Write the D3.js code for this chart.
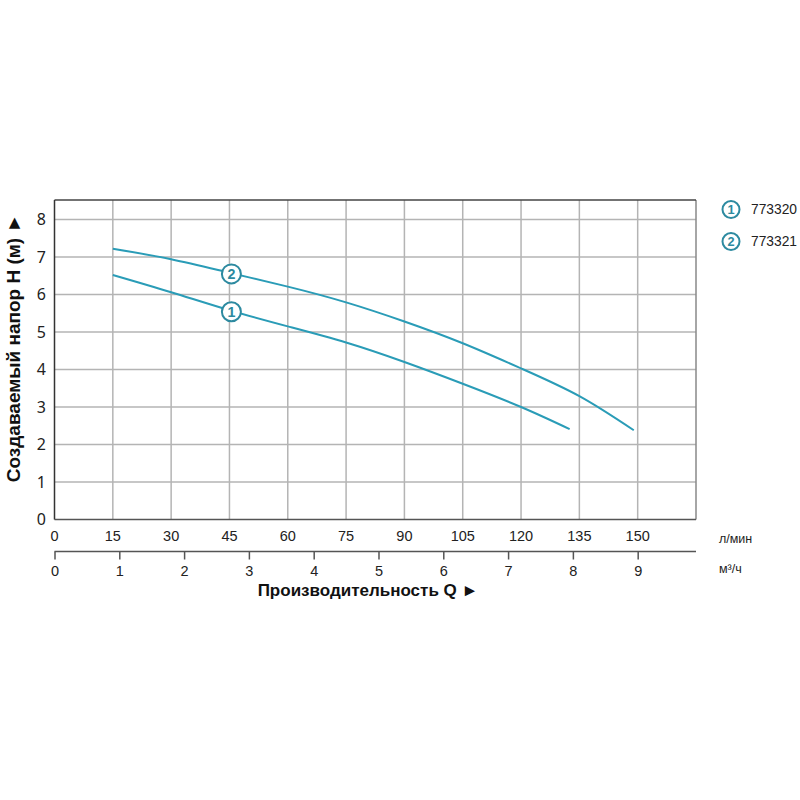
<!DOCTYPE html>
<html><head><meta charset="utf-8">
<script src="https://cdn.jsdelivr.net/npm/d3@7"></script>
<style>body{margin:0;background:#fff}</style>
</head><body>
<svg id="c" width="800" height="800"></svg>
<script>
const flowTicks = [0,15,30,45,60,75,90,105,120,135,150];
const m3Ticks = [0,1,2,3,4,5,6,7,8,9];
const headTicks = [0,1,2,3,4,5,6,7,8];
const curve1Q = [15,30,45,60,75,90,105,120,132.5];
const curve1H = [6.52,6.06,5.58,5.15,4.72,4.20,3.62,3.00,2.41];
const curve2Q = [15,30,45,60,75,90,105,120,135,149];
const curve2H = [7.22,6.94,6.58,6.21,5.79,5.28,4.70,4.03,3.29,2.38];
const markerIds = ["1","2"];
const markerQ = [45.5,45.5];
const markerH = [5.54,6.55];
const legendNames = ["773320","773321"];
const flowUnit = "л/мин";
const m3Unit = "м³/ч";
const xTitle = "Производительность Q ►";
const yTitle = "Создаваемый напор H (м) ►";

const svg = d3.select("#c");
const X0=54.5, X1=696, Y0=519.5, Y1=200;
const x = d3.scaleLinear().domain([0,165]).range([X0,X1]);
const xm = d3.scaleLinear().domain([0,165/ (1000/60)]).range([X0,X1]);
const y = d3.scaleLinear().domain([0,8.52]).range([Y0,Y1]);
const teal="#2a9cb7", tealDark="#2d8aa0";
const font = "'Liberation Sans', Arial, sans-serif";

// grid
const g = svg.append("g");
g.selectAll(".vg").data(flowTicks.filter(d=>d>0)).enter().append("line")
 .attr("x1",d=>x(d)).attr("x2",d=>x(d)).attr("y1",Y1).attr("y2",Y0)
 .attr("stroke","#b4b4b4").attr("stroke-width",1.5);
g.selectAll(".hg").data(headTicks.filter(d=>d>0)).enter().append("line")
 .attr("x1",X0).attr("x2",X1).attr("y1",d=>y(d)).attr("y2",d=>y(d))
 .attr("stroke","#b4b4b4").attr("stroke-width",1.5);
// border
g.append("line").attr("x1",X1).attr("x2",X1).attr("y1",Y1).attr("y2",Y0).attr("stroke","#888").attr("stroke-width",1.5);
g.append("line").attr("x1",X0).attr("x2",X1).attr("y1",Y1).attr("y2",Y1).attr("stroke","#444").attr("stroke-width",1.5);
g.append("line").attr("x1",X0).attr("x2",X1).attr("y1",Y0).attr("y2",Y0).attr("stroke","#555").attr("stroke-width",1.5);
g.append("line").attr("x1",X0).attr("x2",X0).attr("y1",Y1).attr("y2",Y0).attr("stroke","#333").attr("stroke-width",1.5);

// y tick labels
svg.selectAll(".yl").data(headTicks).enter().append("text")
 .attr("x",46).attr("y",d=>y(d)).attr("dy","0.36em").attr("text-anchor","end")
 .attr("font-family","'Noto Sans', sans-serif").attr("font-size",16).attr("fill","#222").text(d=>d);

// flow labels
svg.selectAll(".xl").data(flowTicks).enter().append("text")
 .attr("x",d=>x(d)).attr("y",541).attr("text-anchor","middle")
 .attr("font-family",font).attr("font-size",14.5).attr("fill","#222").text(d=>d);

// m3 axis
const axM = d3.axisBottom(xm).tickValues(m3Ticks).tickSize(8).tickSizeOuter(0).tickFormat(d=>d);
const ag = svg.append("g").attr("transform","translate(0,551.5)").call(axM);
ag.select(".domain").attr("stroke","#555").attr("stroke-width",1.5).attr("d",`M${X0},0H${X1}`);
ag.selectAll(".tick line").attr("stroke","#555").attr("stroke-width",1.5);
ag.selectAll(".tick text").attr("font-family",font).attr("font-size",14.5).attr("fill","#222").attr("y",14).attr("dy","0.71em");

// units
svg.append("text").attr("x",719).attr("y",543).attr("font-family",font).attr("font-size",12.5).attr("fill","#222").text(flowUnit);
svg.append("text").attr("x",719).attr("y",573).attr("font-family",font).attr("font-size",12.5).attr("fill","#222").text(m3Unit);

// titles
svg.append("text").attr("x",368).attr("y",596).attr("text-anchor","middle")
 .attr("font-family",font).attr("font-weight","bold").attr("font-size",17).attr("fill","#111").text(xTitle);
svg.append("text").attr("transform","translate(19.5,348) rotate(-90)").attr("text-anchor","middle")
 .attr("font-family",font).attr("font-weight","bold").attr("font-size",19).attr("fill","#111").text(yTitle);

// curves
const line = d3.line().x(d=>x(d[0])).y(d=>y(d[1])).curve(d3.curveNatural);
[[curve1Q,curve1H],[curve2Q,curve2H]].forEach(([q,h])=>{
  svg.append("path").datum(q.map((v,i)=>[v,h[i]])).attr("d",line)
   .attr("fill","none").attr("stroke",teal).attr("stroke-width",2);
});

// markers
function marker(cx,cy,r,label){
  svg.append("circle").attr("cx",cx).attr("cy",cy).attr("r",r).attr("fill","#fff").attr("stroke",tealDark).attr("stroke-width",2);
  svg.append("text").attr("x",cx).attr("y",cy).attr("dy","0.36em").attr("text-anchor","middle")
   .attr("font-family",font).attr("font-weight","bold").attr("font-size",r*1.5).attr("fill",tealDark).text(label);
}
markerIds.forEach((id,i)=>marker(x(markerQ[i]),y(markerH[i]),9.5,id));

// legend
legendNames.forEach((n,i)=>{
  const cy = 209.5 + i*32;
  marker(731,cy,8.5,markerIds[i]);
  svg.append("text").attr("x",751).attr("y",cy).attr("dy","0.36em")
   .attr("font-family",font).attr("font-size",13.8).attr("fill","#222").text(n);
});
</script>
</body></html>
